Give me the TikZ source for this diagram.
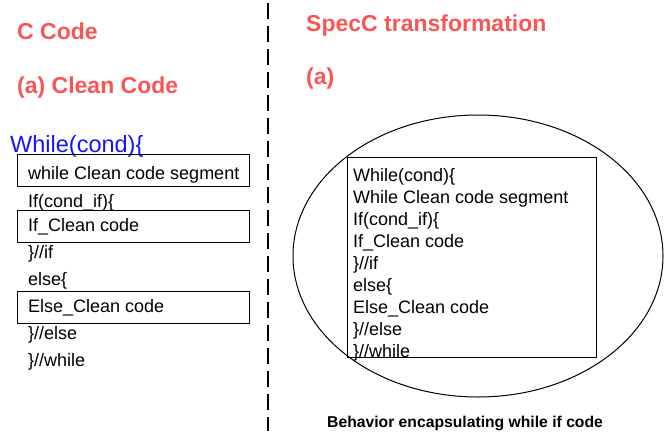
\documentclass[tikz,border=0pt]{standalone}
\usepackage{fontspec}
\setmainfont{Liberation Sans}
\usetikzlibrary{shapes.geometric}
\definecolor{headred}{RGB}{250,85,85}
\definecolor{condblue}{RGB}{20,20,255}
\begin{document}
\begin{tikzpicture}[x=1pt,y=-1pt,
  heading/.style={anchor=base west,inner sep=0pt,text=headred,
    font=\fontsize{23}{27}\selectfont\bfseries},
  code/.style={anchor=base west,inner sep=0pt,font=\fontsize{18}{22}\selectfont},
  codebox/.style={draw,line width=1.2pt,anchor=north west,inner sep=0pt,
    minimum width=232pt,minimum height=32pt},
  divider/.style={line width=2pt,dash pattern=on 16pt off 7pt}]
\useasboundingbox (0,0) rectangle (666,431);

% dividing line between the two columns
\coordinate (dtop) at (268,3);
\coordinate (dbot) at (268,431);
\draw[divider] (dtop) -- (dbot);

% left column: C code
\node[heading] (ccode) at (17,39) {C Code};
\node[heading] (clean) at (17,93) {(a) Clean Code};
\node[anchor=base west,inner sep=0pt,text=condblue,
  font=\fontsize{23.5}{26}\selectfont] (wcond) at (10,152) {While(cond)\{};

\node[codebox] (box1) at (17,154) {};
\node[codebox] (box2) at (17,210) {};
\node[codebox] (box3) at (17,291) {};

\node[code] (l1) at (28,179) {while Clean code segment};
\node[code] (l2) at (28,207) {If(cond\_if)\{};
\node[code] (l3) at (28,231) {If\_Clean code};
\node[code] (l4) at (28,258) {\}//if};
\node[code] (l5) at (28,285) {else\{};
\node[code] (l6) at (28,312) {Else\_Clean code};
\node[code] (l7) at (28,339) {\}//else};
\node[code] (l8) at (28,366) {\}//while};

% right column: SpecC transformation
\node[heading] (specc) at (306,31) {SpecC transformation};
\node[heading] (speca) at (306,84) {(a)};

\node[draw,ellipse,line width=1pt,inner sep=0pt,
  minimum width=370pt,minimum height=282pt] (behav) at (478,256) {};
\node[draw,line width=1.2pt,anchor=north west,inner sep=0pt,
  minimum width=249pt,minimum height=200pt] (sbox) at (347,157) {};

\node[code] (r1) at (353,181) {While(cond)\{};
\node[code] (r2) at (353,203) {While Clean code segment};
\node[code] (r3) at (353,225) {If(cond\_if)\{};
\node[code] (r4) at (353,247) {If\_Clean code};
\node[code] (r5) at (353,269) {\}//if};
\node[code] (r6) at (353,291) {else\{};
\node[code] (r7) at (353,313) {Else\_Clean code};
\node[code] (r8) at (353,335) {\}//else};
\node[code] (r9) at (353,357) {\}//while};

\node[anchor=base west,inner sep=0pt,font=\fontsize{15.7}{18}\selectfont\bfseries]
  (caption) at (327,427) {Behavior encapsulating while if code};
\end{tikzpicture}
\end{document}
